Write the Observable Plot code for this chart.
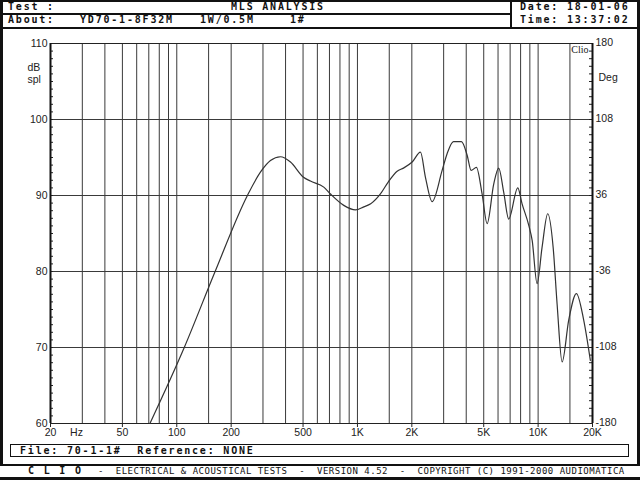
<!DOCTYPE html>
<html><head><meta charset="utf-8">
<script src="https://cdn.jsdelivr.net/npm/d3@7"></script>
<script src="https://cdn.jsdelivr.net/npm/@observablehq/plot@0.6"></script>
<style>
body{margin:0;background:#fff;}
#wrap{position:relative;width:640px;height:480px;overflow:hidden;background:#fff;}
#wrap svg{position:absolute;left:0;top:0;}
.b{position:absolute;background:#111;}
.t{position:absolute;font-family:"DejaVu Sans Mono",monospace;font-weight:bold;font-size:10px;letter-spacing:1.8px;color:#111;white-space:pre;line-height:10px;}
.s{position:absolute;font-family:"DejaVu Sans Mono",monospace;font-size:9px;letter-spacing:0.5px;color:#111;white-space:pre;line-height:9px;}
</style></head><body><div id="wrap"></div>
<script>
// Frequency response (Hz, dB spl)
const freqs = [71,110,163,246,291,330,375,426,503,549,651,709,840,975,1084,1184,1340,1483,1659,1797,2008,2233,2379,2590,2943,3135,3400,3764,4047,4258,4556,4897,5222,5679,6053,6452,6875,7717,8152,8870,9270,9867,10520,11300,12110,12740,13580,14770,16290,17880,19460];
const spl = [60,70,80,90,93.1,94.6,95.1,94.4,92.4,91.9,91.1,90.2,88.7,88.1,88.5,88.9,90.2,91.8,93.2,93.6,94.4,95.7,92.4,89.2,93.3,95.5,97.1,97.1,95.3,93.3,93.7,90.2,86.3,91.5,93.6,90.4,86.9,91.0,88.9,86.1,84.1,78.4,83.2,87.6,83.2,75.7,68.1,73.6,77.1,73.6,68.3];

const xTicks = [20,50,100,200,500,1000,2000,5000,10000,20000];
const xLabels = ["20","50","100","200","500","1K","2K","5K","10K","20K"];
const yTicks = [60,70,80,90,100,110];
const yLabels = ["60","70","80","90","100","110"];
const degLabels = ["-180","-108","-36","36","108","180"];
const gridFreqs = [30,40,50,60,70,80,90,100,150,200,300,400,500,600,700,800,900,1000,1500,2000,3000,4000,5000,6000,7000,8000,9000,10000,15000];
const gridDb = [70,80,90,100];
const minorDb = d3.range(61,110);

const data = freqs.map((f,i)=>({f, db: spl[i]}));
const xTickData = xTicks.map((f,i)=>({f, label: xLabels[i]}));
const yTickData = yTicks.map((v,i)=>({v, label: yLabels[i], deg: degLabels[i]}));

const chart = Plot.plot({
  width: 640, height: 480,
  marginLeft: 50, marginRight: 48, marginTop: 43, marginBottom: 57,
  style: {fontFamily: "'Liberation Sans', Arial, sans-serif", fontSize: "10.5px", color: "#222", background: "transparent", overflow: "visible"},
  x: {type: "log", domain: [20, 20000], axis: null},
  y: {domain: [60, 110], axis: null},
  marks: [
    Plot.ruleX(gridFreqs, {stroke: "#3a3a3a", strokeWidth: 1}),
    Plot.ruleY(gridDb, {stroke: "#3a3a3a", strokeWidth: 1}),
    Plot.ruleY(minorDb, {stroke: "#222", insetRight: 539}),
    Plot.ruleY(minorDb, {stroke: "#222", insetLeft: 539}),
    Plot.frame({stroke: "#222"}),
    Plot.ruleX([20, 20000], {stroke: "#111", strokeWidth: 2}),
    // x ticks and labels
    Plot.ruleX(xTickData, {x: "f", insetTop: 380, insetBottom: -4, stroke: "#222"}),
    Plot.text(xTickData, {x: "f", frameAnchor: "bottom", text: "label", dy: 12.5, fill: "#222"}),
    // y labels (dB left, Deg right)
    Plot.text(yTickData, {y: "v", frameAnchor: "left", text: "label", dx: -3, textAnchor: "end", fill: "#222"}),
    Plot.text(yTickData, {y: "v", frameAnchor: "right", text: "deg", dx: 3, dy: -0.5, textAnchor: "start", fill: "#222"}),
    Plot.line(data, {x: "f", y: "db", curve: "monotone-x", stroke: "#333", strokeWidth: 1.2}),
    Plot.text(["dB"], {frameAnchor: "top-left", text: d => d, dx: -23, dy: 20, textAnchor: "start", fill: "#222"}),
    Plot.text(["spl"], {frameAnchor: "top-left", text: d => d, dx: -23, dy: 32, textAnchor: "start", fill: "#222"}),
    Plot.text(["Deg"], {frameAnchor: "top-right", text: d => d, dx: 6, dy: 30, textAnchor: "start", fill: "#222"}),
    Plot.text(["Hz"], {frameAnchor: "bottom-left", text: d => d, dx: 26, dy: 12.5, textAnchor: "middle", fill: "#222"}),
    Plot.text(["Clio"], {frameAnchor: "top-right", text: d => d, dx: -4, dy: 2, lineAnchor: "top", textAnchor: "end", fontFamily: "'Liberation Serif', serif", fontSize: 10, fill: "#222"})
  ]
});

const wrap = document.getElementById("wrap");
wrap.appendChild(chart);

function box(cls, css, txt){
  const d = document.createElement("div");
  d.className = cls;
  d.style.cssText = css;
  if (txt !== undefined) d.textContent = txt;
  wrap.appendChild(d);
}
// frame lines
box("b","left:0;top:0;width:640px;height:2px;");
box("b","left:0;top:13px;width:510px;height:1.5px;");
box("b","left:0;top:27px;width:640px;height:1.5px;");
box("b","left:510px;top:0;width:1.5px;height:28px;");
box("b","left:0;top:0;width:3px;height:466px;");
box("b","left:637px;top:0;width:3px;height:466px;");
box("b","left:0;top:464px;width:640px;height:2px;");
box("b","left:0;top:477px;width:640px;height:3px;");
box("", "position:absolute;left:10px;top:444px;width:617px;height:11px;border:1.5px solid #111;");
// header text
box("t","left:8px;top:1.5px;","Test :");
box("t","left:231px;top:1.5px;","MLS ANALYSIS");
box("t","left:8px;top:14.5px;","About:");
box("t","left:80px;top:14.5px;","YD70-1-8F32M");
box("t","left:200px;top:14.5px;","1W/0.5M");
box("t","left:290px;top:14.5px;","1#");
box("t","left:520px;top:1.5px;","Date: 18-01-06");
box("t","left:520px;top:14.5px;","Time: 13:37:02");
// footer text
box("t","left:20px;top:445.5px;","File: 70-1-1#  Reference: NONE");
box("t","left:28px;top:466px;","C L I O");
box("s","left:98px;top:467px;","-  ELECTRICAL & ACOUSTICAL TESTS  -  VERSION 4.52  -  COPYRIGHT (C) 1991-2000 AUDIOMATICA");
</script>
</body></html>
